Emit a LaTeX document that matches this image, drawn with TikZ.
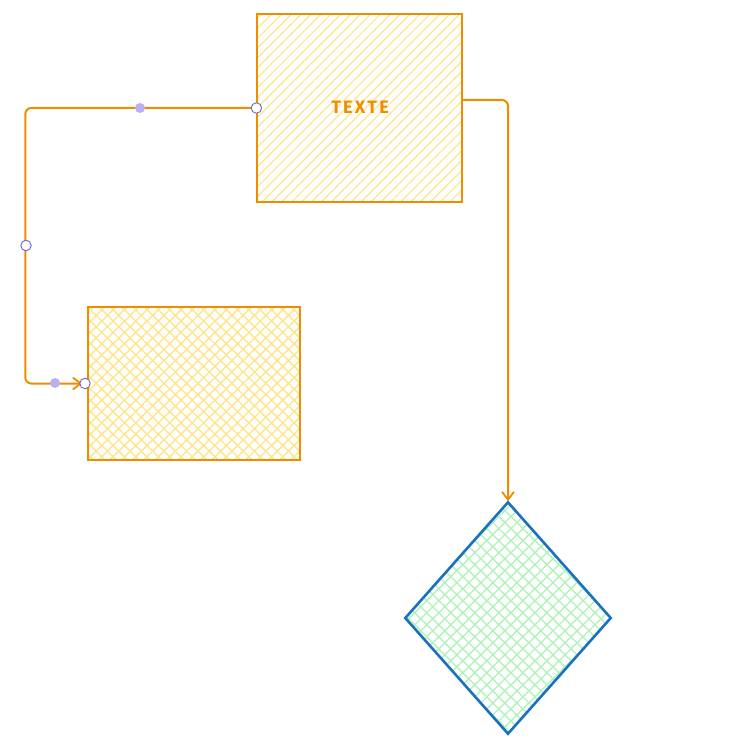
\documentclass[tikz,border=0pt]{standalone}
\usepackage{fontspec}
\newfontfamily\handfont[LetterSpace=12]{Fira Sans}
\usetikzlibrary{patterns.meta,shapes.geometric,arrows.meta,calc}
\definecolor{exorange}{HTML}{F08C00}
\definecolor{exyellow}{HTML}{FFE58A}
\definecolor{exgreen}{HTML}{B2F2BB}
\definecolor{exblue}{HTML}{1971C2}
\definecolor{handstroke}{HTML}{6965DB}
\definecolor{handfill}{HTML}{BBAEF2}
\tikzset{
  box/.style={draw=exorange, line width=2pt, inner sep=0pt},
  conn/.style={draw=exorange, line width=2pt, rounded corners=6pt, -{Straight Barb[length=8pt,width=12pt,line width=1.8pt]}},
  hollowhandle/.style={circle, draw=handstroke, fill=white, line width=0.9pt, minimum size=10.5pt, inner sep=0pt},
  filledhandle/.style={circle, fill=handfill, minimum size=10pt, inner sep=0pt},
}
\begin{document}
\begin{tikzpicture}[x=1pt,y=-1pt]
\useasboundingbox (0,0) rectangle (741,751);
% rectangle 1
\node[box, minimum width=205pt, minimum height=188pt,
      pattern={Lines[angle=45,distance=7pt,line width=1.2pt]}, pattern color=exyellow] (r1) at (359.5,108) {};
\node[text=exorange, font={\handfont\fontsize{18pt}{20pt}\selectfont\bfseries}] (t1) at (360,107) {TEXTE};
% rectangle 2
\node[box, minimum width=212pt, minimum height=153pt,
      pattern={Hatch[angle=45,distance=8pt,line width=1.4pt]}, pattern color=exyellow] (r2) at (194,383.5) {};
% diamond
\node[diamond, draw=exblue, line width=2.6pt, inner sep=0pt, minimum width=206pt, minimum height=232pt,
      pattern={Hatch[angle=45,distance=8.5pt,line width=1.4pt]}, pattern color=exgreen] (d) at (508,618) {};
% connector 1
\coordinate (c1corner) at ($(r2.west)+(-62,0)$);
\draw[conn] (r1.west) -| (c1corner) -- ($(r2.west)+(-5,0)$);
% connector 2
\coordinate (c2start) at ($(r1.east)+(0,-8)$);
\draw[conn] (c2start) -| (d.north);
% handles
\node[filledhandle] (h1) at (140,108) {};
\node[filledhandle] (h2) at (55,383) {};
\node[hollowhandle] (h3) at (r1.west) {};
\node[hollowhandle] (h4) at (26,245.5) {};
\node[hollowhandle] (h5) at (85,383.5) {};
\end{tikzpicture}
\end{document}
